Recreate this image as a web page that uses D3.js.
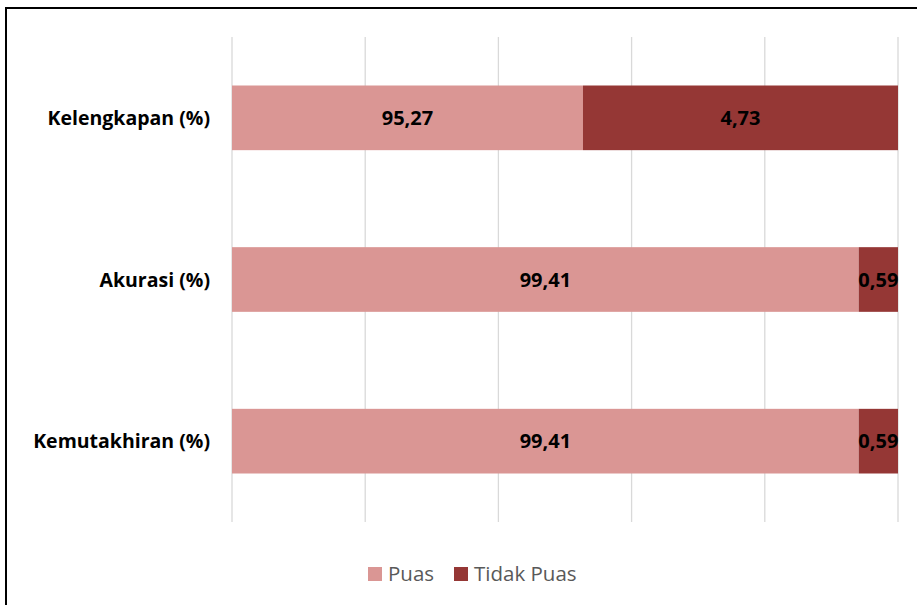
<!DOCTYPE html>
<html>
<head>
<meta charset="utf-8">
<script src="https://cdn.jsdelivr.net/npm/d3@7"></script>
<style>
  html, body { margin: 0; padding: 0; background: #fff; }
  svg { display: block; font-family: "Open Sans", Lato, sans-serif; }
</style>
</head>
<body>
<svg id="chart" width="917" height="605"></svg>
<script>
// Survey categories (top to bottom) and satisfaction shares
const categories = ["Kelengkapan (%)", "Akurasi (%)", "Kemutakhiran (%)"];
const puas = [95.27, 99.41, 99.41];
const tidakPuas = [4.73, 0.59, 0.59];
const seriesNames = ["Puas", "Tidak Puas"];
const seriesColors = ["#DA9694", "#953735"];
const xTicks = [90, 92, 94, 96, 98, 100];

const svg = d3.select("#chart");
const W = 917, H = 605;

// outer frame
svg.append("rect")
  .attr("x", 6).attr("y", 8)
  .attr("width", W + 10).attr("height", H + 10)
  .attr("fill", "#fff").attr("stroke", "#000").attr("stroke-width", 2);

const plot = { left: 232, right: 898, top: 37, bottom: 522 };

const x = d3.scaleLinear()
  .domain([xTicks[0], xTicks[xTicks.length - 1]])
  .range([plot.left, plot.right]);

const y = d3.scaleBand()
  .domain(categories)
  .range([plot.top, plot.bottom])
  .paddingInner(0.6)
  .paddingOuter(0.3);

// vertical gridlines
svg.append("g")
  .selectAll("line")
  .data(xTicks)
  .join("line")
  .attr("x1", d => x(d)).attr("x2", d => x(d))
  .attr("y1", plot.top).attr("y2", plot.bottom)
  .attr("stroke", "#D9D9D9").attr("stroke-width", 1.3);

// stacked segments
const rows = categories.map((c, i) => ({ cat: c, vals: [puas[i], tidakPuas[i]] }));
const segs = [];
rows.forEach(r => {
  let start = 0;
  r.vals.forEach((v, k) => {
    const a = Math.max(start, x.domain()[0]);
    const b = Math.min(start + v, x.domain()[1]);
    segs.push({ cat: r.cat, k, v, x0: x(a), x1: x(b) });
    start += v;
  });
});

svg.append("g")
  .selectAll("rect")
  .data(segs)
  .join("rect")
  .attr("x", d => d.x0)
  .attr("width", d => d.x1 - d.x0)
  .attr("y", d => y(d.cat))
  .attr("height", y.bandwidth())
  .attr("fill", d => seriesColors[d.k]);

// value labels
svg.append("g")
  .selectAll("text")
  .data(segs)
  .join("text")
  .attr("x", d => (d.x0 + d.x1) / 2)
  .attr("y", d => y(d.cat) + y.bandwidth() / 2)
  .attr("dy", "0.36em")
  .attr("text-anchor", "middle")
  .attr("font-size", 20)
  .attr("font-weight", "bold")
  .attr("fill", "#000")
  .text(d => d3.format(".2f")(d.v).replace(".", ","));

// category labels
svg.append("g")
  .selectAll("text")
  .data(categories)
  .join("text")
  .attr("x", 210)
  .attr("y", d => y(d) + y.bandwidth() / 2)
  .attr("dy", "0.36em")
  .attr("text-anchor", "end")
  .attr("font-size", 19.5)
  .attr("font-weight", "bold")
  .attr("fill", "#000")
  .text(d => d);

// legend
const legend = svg.append("g");
const legendPos = [368, 454];
seriesNames.forEach((name, i) => {
  legend.append("rect")
    .attr("x", legendPos[i]).attr("y", 567)
    .attr("width", 14).attr("height", 14)
    .attr("fill", seriesColors[i]);
  legend.append("text")
    .attr("x", legendPos[i] + 20).attr("y", 574)
    .attr("dy", "0.36em")
    .attr("font-size", 20.5)
    .attr("fill", "#595959")
    .text(name);
});
</script>
</body>
</html>
